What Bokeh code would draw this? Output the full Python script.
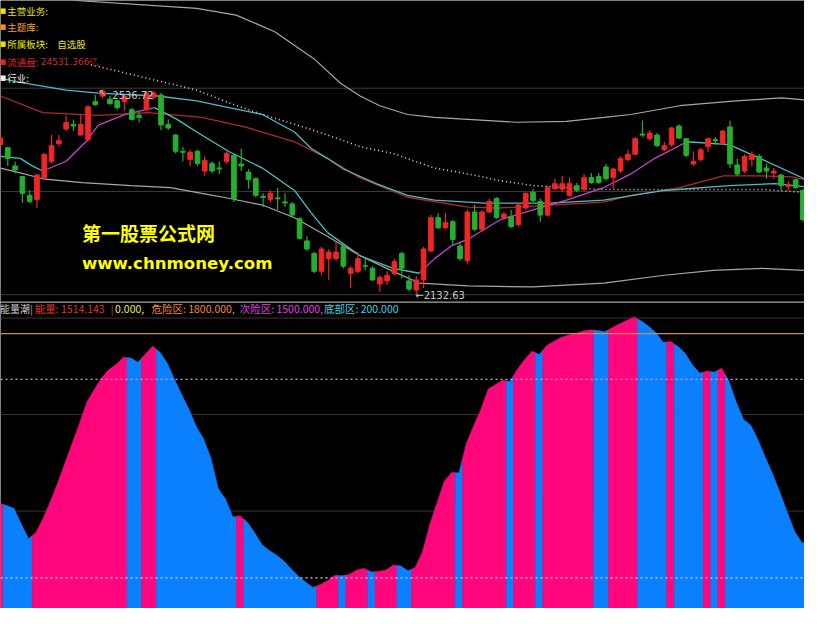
from bokeh.plotting import figure
from bokeh.layouts import column
from bokeh.models import Range1d, Span, Label, ColumnDataSource
from bokeh.embed import file_html
from bokeh.resources import INLINE

# ---------------- data ----------------
bars = list(range(111))
open_ = [2427, 2421, 2385, 2364, 2327, 2319, 2362, 2394, 2429, 2458,
         2467, 2446, 2437, 2512, 2523, 2517, 2514, 2512, 2496, 2485,
         2496, 2521, 2525, 2467, 2446, 2414, 2398, 2414, 2375, 2390,
         2381, 2394, 2406, 2389, 2373, 2360, 2325, 2319, 2322, 2314,
         2310, 2281, 2237, 2212, 2177, 2202, 2202, 2227, 2173, 2177,
         2188, 2183, 2152, 2158, 2173, 2212, 2158, 2140, 2160, 2217,
         2283, 2263, 2275, 2227, 2198, 2294, 2260, 2294, 2321, 2283,
         2285, 2269, 2302, 2333, 2315, 2288, 2340, 2339, 2327, 2346,
         2339, 2362, 2364, 2383, 2362, 2375, 2398, 2408, 2448, 2439,
         2446, 2417, 2427, 2464, 2439, 2389, 2398, 2423, 2437, 2429,
         2462, 2387, 2375, 2398, 2404, 2381, 2371, 2367, 2344, 2358,
         2337]
high = [2446, 2423, 2394, 2365, 2337, 2369, 2410, 2446, 2446, 2485,
        2477, 2487, 2504, 2525, 2536.72, 2523, 2515, 2525, 2500, 2491,
        2533, 2533, 2529, 2477, 2448, 2423, 2417, 2417, 2404, 2394,
        2394, 2414, 2408, 2419, 2379, 2362, 2331, 2337, 2342, 2331,
        2314, 2283, 2246, 2215, 2225, 2221, 2235, 2231, 2187, 2215,
        2202, 2187, 2169, 2177, 2202, 2215, 2169, 2167, 2225, 2288,
        2292, 2292, 2279, 2235, 2298, 2308, 2298, 2321, 2323, 2294,
        2298, 2312, 2333, 2340, 2321, 2346, 2360, 2365, 2362, 2352,
        2369, 2371, 2371, 2389, 2381, 2404, 2417, 2442, 2475, 2456,
        2450, 2433, 2462, 2467, 2440, 2414, 2421, 2440, 2442, 2456,
        2475, 2400, 2408, 2414, 2408, 2390, 2381, 2369, 2356, 2360,
        2340]
low = [2423, 2385, 2371, 2312, 2312, 2302, 2360, 2390, 2423, 2454,
       2454, 2446, 2433, 2504, 2519, 2506, 2496, 2494, 2475, 2471,
       2494, 2517, 2456, 2456, 2410, 2394, 2385, 2385, 2365, 2371,
       2369, 2389, 2314, 2375, 2340, 2323, 2304, 2314, 2298, 2304,
       2285, 2240, 2217, 2173, 2169, 2160, 2198, 2183, 2144, 2173,
       2179, 2158, 2136, 2150, 2169, 2163, 2138, 2132.63, 2144, 2215,
       2260, 2260, 2227, 2198, 2192, 2256, 2256, 2292, 2281, 2279,
       2263, 2265, 2298, 2314, 2275, 2285, 2337, 2333, 2323, 2333,
       2335, 2350, 2350, 2356, 2340, 2371, 2394, 2406, 2442, 2435,
       2423, 2414, 2423, 2439, 2402, 2385, 2394, 2412, 2427, 2427,
       2381, 2365, 2371, 2385, 2371, 2360, 2360, 2337, 2337, 2340,
       2275]
close = [2440, 2400, 2377, 2331, 2315, 2367, 2408, 2425, 2435, 2471,
         2464, 2467, 2502, 2506, 2533, 2508, 2500, 2523, 2477, 2481,
         2529, 2529, 2466, 2460, 2414, 2412, 2412, 2390, 2396, 2375,
         2379, 2410, 2321, 2385, 2358, 2327, 2323, 2331, 2320, 2312,
         2288, 2242, 2221, 2177, 2221, 2215, 2215, 2187, 2183, 2202,
         2187, 2160, 2165, 2169, 2196, 2183, 2142, 2160, 2221, 2283,
         2263, 2273, 2240, 2202, 2294, 2260, 2294, 2315, 2283, 2290,
         2265, 2308, 2331, 2317, 2288, 2342, 2350, 2350, 2350, 2337,
         2362, 2352, 2352, 2360, 2379, 2400, 2408, 2439, 2446, 2450,
         2425, 2425, 2460, 2440, 2406, 2394, 2417, 2439, 2435, 2454,
         2389, 2369, 2404, 2408, 2373, 2375, 2375, 2346, 2348, 2342,
         2279]

# overlay lines (bar position, price)
upper_x = [0, 5.4, 10.3, 26.9, 32.3, 37.6, 43.0, 46.6, 49.3, 52.0, 55.8, 59.5, 64.1, 70.8, 77.6, 82.7, 86.4, 93.1, 100.8, 107.1, 110.2]
upper_y = [2740.7, 2727.2, 2711.8, 2696.4, 2683.0, 2650.2, 2596.4, 2548.3, 2523.2, 2504.0, 2486.7, 2480.9, 2477.1, 2471.3, 2473.2, 2480.9, 2486.7, 2504.0, 2513.6, 2519.4, 2515.6]
lower_x = [0, 2.7, 5.8, 11.2, 17.9, 23.3, 27.6, 31.3, 35.9, 40.3, 44.8, 49.3, 53.8, 57.4, 64.1, 73.0, 82.7, 91.0, 97.7, 104.4, 110.2]
lower_y = [2380.9, 2371.3, 2359.7, 2352.0, 2346.2, 2342.4, 2330.9, 2321.2, 2307.8, 2282.8, 2246.2, 2207.7, 2176.9, 2153.8, 2148.1, 2146.1, 2153.8, 2169.2, 2178.9, 2182.7, 2178.9]
dots_x = [12.4, 26.9, 31.3, 35.9, 40.3, 44.8, 49.3, 53.8, 59.5, 64.1, 68.5, 73.0, 77.6, 82.7, 94.1, 104.8, 110.2]
dots_y = [2584.8, 2534.8, 2509.8, 2486.7, 2467.5, 2446.3, 2423.2, 2409.7, 2380.9, 2369.3, 2355.9, 2346.2, 2342.4, 2338.5, 2338.5, 2338.5, 2332.8]
ma_red_x = [0, 5.8, 13.4, 20.2, 27.6, 33.6, 40.3, 44.8, 49.3, 55.8, 64.1, 68.5, 75.3, 82.7, 86.4, 93.1, 99.1, 104.4, 108.5, 110.2]
ma_red_y = [2523.2, 2490.5, 2484.8, 2490.5, 2480.9, 2461.7, 2432.8, 2400.1, 2361.6, 2323.2, 2303.9, 2302.0, 2307.8, 2313.5, 2327.0, 2342.4, 2365.5, 2365.5, 2363.6, 2357.8]
ma_cyan_x = [0, 2.7, 9.0, 13.4, 21.5, 26.9, 31.3, 35.9, 40.3, 42.6, 44.8, 47.0, 51.5, 55.8, 59.5, 66.3, 75.3, 82.7, 91.0, 99.9, 106.2, 110.2]
ma_cyan_y = [2557.9, 2550.2, 2534.8, 2529.0, 2523.2, 2513.6, 2500.2, 2486.7, 2452.1, 2419.4, 2400.1, 2379.0, 2350.1, 2327.0, 2317.4, 2311.6, 2311.6, 2317.4, 2336.6, 2346.2, 2350.1, 2344.3]
ma_short_x = [0, 2.7, 4.4, 5.8, 9.0, 11.7, 13.4, 17.1, 21.1, 24.2, 26.9, 31.3, 35.9, 40.3, 42.6, 44.8, 49.3, 53.8, 57.4, 59.5, 61.8, 64.1, 68.5, 73.0, 77.6, 82.7, 86.4, 89.7, 94.1, 99.9, 104.4, 110.2]
ma_short_y = [2404.0, 2400.1, 2384.7, 2375.1, 2394.3, 2432.8, 2465.5, 2486.7, 2500.2, 2477.1, 2452.1, 2413.6, 2380.9, 2336.6, 2292.4, 2253.9, 2207.7, 2182.7, 2173.1, 2202.0, 2227.0, 2240.4, 2278.9, 2298.1, 2317.4, 2342.4, 2369.3, 2400.1, 2432.8, 2427.0, 2398.2, 2359.7]

price_grid = [2538.6, 2334.7, 2130.8]
price_high, price_low = 2536.72, 2132.63

# energy indicator (能量潮)
energy = [689.3, 673.9, 654.8, 552.7, 457.6, 496.5, 591.0, 700.7, 823.3, 952.8,
          1083.7, 1213.9, 1351.7, 1432.8, 1510.0, 1564.9, 1597.4, 1644.6, 1640.2, 1612.7,
          1664.4, 1717.4, 1678.5, 1608.3, 1501.0, 1399.6, 1302.6, 1190.9, 1109.8, 984.7,
          785.0, 717.3, 599.9, 606.3, 564.8, 495.9, 418.0, 380.4, 349.1, 310.8,
          259.1, 211.9, 172.3, 137.2, 156.4, 182.5, 217.0, 213.8, 223.4, 252.7,
          261.7, 239.3, 242.5, 252.1, 284.0, 278.9, 247.0, 268.0, 370.2, 548.9,
          692.4, 834.1, 890.9, 887.1, 1078.6, 1193.4, 1301.9, 1436.0, 1465.9, 1494.0,
          1487.0, 1565.5, 1629.3, 1684.8, 1663.8, 1719.9, 1749.3, 1774.2, 1790.2, 1802.9,
          1815.7, 1825.3, 1820.1, 1812.5, 1838.0, 1863.5, 1885.9, 1908.2, 1882.7, 1847.6,
          1806.1, 1742.3, 1748.7, 1716.8, 1672.1, 1595.5, 1541.3, 1554.0, 1547.6, 1573.2,
          1490.2, 1353.0, 1238.1, 1199.8, 1104.1, 989.2, 880.7, 759.5, 631.8, 506.7,
          430.8]
energy_now = 1514.143
danger, second, bottom_zone = 1800, 1500, 200
energy_grid = [1902, 1270, 638]

# ---------------- geometry helpers ----------------
W, H1, H2 = 804, 302, 306
PX_BAR = 7.44                      # reference pixels per bar


def bx(xr):                        # reference x pixel -> bar position
    return xr / PX_BAR


def py(yr):                        # reference y pixel -> price (top pane)
    return 2711.8 - 1.924 * yr


def ey(yr):                        # reference y pixel -> energy value (bottom pane)
    return 6.382 * (624 - yr)


CJK = "Noto Sans CJK SC"


def label(fig, x, y, text, color, size, font=CJK, bold=False):
    fig.add_layout(Label(x=x, y=y, text=text, text_color=color,
                         text_font_size=f"{size}px", text_font=font,
                         text_font_style="bold" if bold else "normal",
                         text_baseline="middle", text_align="left"))


# ---------------- top pane: candles ----------------
p1 = figure(width=W, height=H1, x_range=Range1d(0, bx(820)),
            y_range=Range1d(py(310), py(0)), output_backend="svg",
            toolbar_location=None, x_axis_location=None, y_axis_location=None,
            background_fill_color="black", border_fill_color="black",
            min_border=0, outline_line_color=None)
p1.grid.visible = False

for g in price_grid:
    p1.add_layout(Span(location=g, dimension="width", line_color="#3c3c3c",
                       line_width=1, level="underlay"))
p1.add_layout(Span(location=py(309.3), dimension="width", line_color="#6a6a6a",
                   line_width=1.2))

p1.line(upper_x, upper_y, line_color="#a8a8a8", line_width=1.2)
p1.line(lower_x, lower_y, line_color="#a8a8a8", line_width=1.2)
p1.line(dots_x, dots_y, line_color="#d8d8d8", line_width=1.6, line_dash="1 3")
p1.line(ma_red_x, ma_red_y, line_color="#b02a2a", line_width=1.3)
p1.line(ma_cyan_x, ma_cyan_y, line_color="#4cbcc4", line_width=1.3)

seg_col = ["#c447d0" if b > a else "#48c4c4" for a, b in zip(ma_short_y[:-1], ma_short_y[1:])]
p1.segment(x0=ma_short_x[:-1], y0=ma_short_y[:-1], x1=ma_short_x[1:], y1=ma_short_y[1:],
           line_color=seg_col, line_width=1.3)

up = [c >= o for o, c in zip(open_, close)]
ccol = ["#ee2626" if u else "#26ae2e" for u in up]
src = ColumnDataSource(dict(x=bars, hi=high, lo=low,
                            top=[max(o, c) for o, c in zip(open_, close)],
                            bot=[min(o, c) for o, c in zip(open_, close)],
                            col=ccol))
p1.segment(x0="x", y0="hi", x1="x", y1="lo", line_color="col", line_width=1.2, source=src)
p1.vbar(x="x", width=0.64, top="top", bottom="bot", fill_color="col",
        line_color="col", line_width=1, source=src)

# info block
info = [("主营业务:", "#e8e400", "#e8e400"), ("主题库:", "#f0a030", "#f09020"),
        ("所属板块:", "#e8e400", "#e8e400"), ("流通盘:", "#d82a2a", "#d82a2a"),
        ("行业:", "#f0f0f0", "#f0f0f0")]
rows = [11, 27, 45, 63, 80]
for (t, c, sq), r in zip(info, rows):
    label(p1, bx(-1), py(r), "■", sq, 7, font="DejaVu Sans")
    label(p1, bx(7), py(r), t, c, 9.5)
label(p1, bx(58), py(45), "自选股", "#e8e400", 9.5)
label(p1, bx(41), py(63), "24531.366亿", "#c83030", 9, font="DejaVu Sans")

label(p1, bx(83), py(238), "第一股票公式网", "#ffff00", 19, bold=True)
label(p1, bx(83), py(270), "www.chnmoney.com", "#ffff00", 16.6, font="DejaVu Sans", bold=True)

label(p1, bx(100), py(94), "↖", "#c8c8c8", 10, font="DejaVu Sans")
label(p1, bx(114), py(97), f"{price_high:.2f}", "#c8c8c8", 10, font="DejaVu Sans")
label(p1, bx(423), py(303), f"←{price_low:.2f}", "#c8c8c8", 10, font="DejaVu Sans")

# ---------------- bottom pane: energy ----------------
p2 = figure(width=W, height=H2, x_range=Range1d(0.15, bx(820) + 0.15),
            y_range=Range1d(0, ey(310)), output_backend="svg",
            toolbar_location=None, x_axis_location=None, y_axis_location=None,
            background_fill_color="black", border_fill_color="black",
            min_border=0, outline_line_color=None)
p2.grid.visible = False

for g in energy_grid:
    p2.add_layout(Span(location=g, dimension="width", line_color="#3e3434",
                       line_width=1, level="underlay"))

PINK, BLUE = "#ff067c", "#0a80ff"
n = len(energy)
state = [PINK if (i == 0 or energy[i] >= energy[i - 1]) else BLUE for i in range(n)]


def mid_left(i):
    return (energy[i - 1] + energy[i]) / 2 if i > 0 else energy[i]


def mid_right(i):
    return (energy[i] + energy[i + 1]) / 2 if i < n - 1 else energy[i]


# one polygon per run of equally coloured bars (no seams between bars)
xs, ys, fills = [], [], []
start = 0
for i in range(1, n + 1):
    if i == n or state[i] != state[start]:
        end = i - 1
        px = [start - 0.5] + list(range(start, end + 1)) + [end + 0.5, end + 0.5, start - 0.5]
        pv = [mid_left(start)] + energy[start:end + 1] + [mid_right(end), 0, 0]
        xs.append(px)
        ys.append(pv)
        fills.append(state[start])
        start = i
esrc = ColumnDataSource(dict(xs=xs, ys=ys, c=fills))
p2.patches(xs="xs", ys="ys", fill_color="c", line_color="c", line_width=0.6, source=esrc)

p2.add_layout(Span(location=danger, dimension="width", line_color="#c88a5a", line_width=1.2))
p2.add_layout(Span(location=second, dimension="width", line_color="#d8a0c8",
                   line_width=1.2, line_dash="2 3"))
p2.add_layout(Span(location=bottom_zone, dimension="width", line_color="#c8d8ff",
                   line_width=1.2, line_dash="2 3"))

ty = ey(316.5)
label(p2, bx(0.5), ty, "能量潮", "#c8c8c8", 10)
label(p2, bx(31), ty, "|", "#8a8a8a", 10.5, font="DejaVu Sans")
label(p2, bx(36), ty, f"能量: {energy_now:.3f}", "#e03232", 10.5)
label(p2, bx(113), ty, "|", "#c02a2a", 10.5, font="DejaVu Sans")
label(p2, bx(118), ty, "0.000,", "#eaea70", 10.5)
label(p2, bx(155), ty, f"危险区: {danger:.3f},", "#f08a40", 10.5)
label(p2, bx(245), ty, f"次险区: {second:.3f},", "#e040e0", 10.5)
label(p2, bx(331), ty, f"底部区: {bottom_zone:.3f}", "#40d0e0", 10.5)

layout = column(p1, p2)
open("out.html", "w").write(file_html(layout, INLINE))
